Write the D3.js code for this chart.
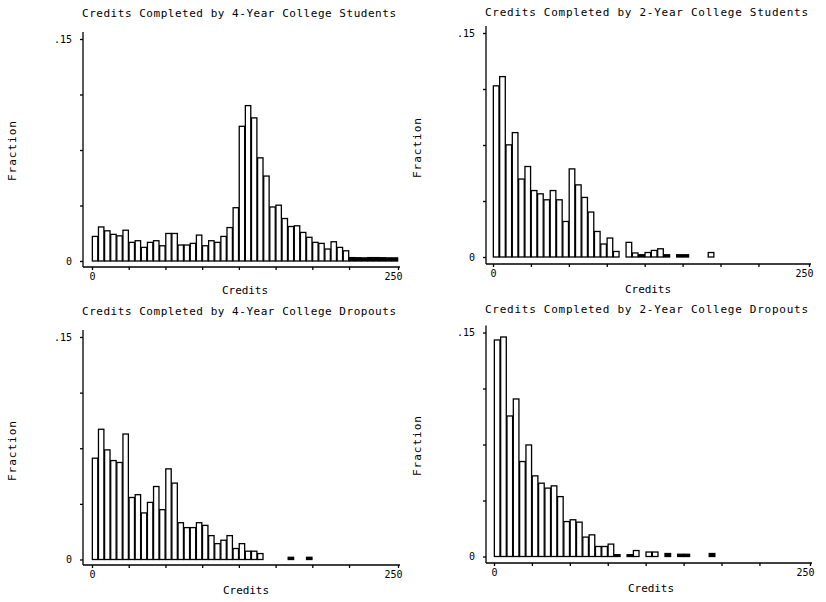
<!DOCTYPE html>
<html><head><meta charset="utf-8">
<script src="https://cdn.jsdelivr.net/npm/d3@7"></script>
<style>
body{margin:0;background:#fff}
svg text{font-family:"DejaVu Sans Mono",monospace;fill:#000}
</style>
</head><body>
<svg id="chart" width="826" height="602"></svg>
<script>
// ---- data ----
const binStarts = [0,5,10,15,20,25,30,35,40,45,50,55,60,65,70,75,80,85,90,95,
  100,105,110,115,120,125,130,135,140,145,150,155,160,165,170,175,180,185,190,195,
  200,205,210,215,220,225,230,235,240,245];
const binWidth = 5;
const yTickValues = [0, 0.0375, 0.075, 0.1125, 0.15];
const xTickValues = [0, 30, 60, 90, 120, 150, 180, 210, 250];
const titles = [
  "Credits Completed by 4-Year College Students",
  "Credits Completed by 2-Year College Students",
  "Credits Completed by 4-Year College Dropouts",
  "Credits Completed by 2-Year College Dropouts"
];
const fourYearStudents = [0.0166,0.023,0.0204,0.018,0.017,0.0208,0.0126,0.0137,0.0092,0.0126,
  0.0137,0.0103,0.0186,0.0186,0.0108,0.0108,0.0119,0.0175,0.0103,0.0137,
  0.0126,0.0166,0.0226,0.036,0.091,0.105,0.0967,0.0697,0.0574,0.0365,
  0.0377,0.0287,0.0233,0.0238,0.0193,0.016,0.0126,0.0119,0.0081,0.013,
  0.0092,0.0069,0.0023,0.0022,0.0021,0.0023,0.0023,0.0022,0.0021,0.0021];
const twoYearStudents = [0.1146,0.1208,0.0751,0.0833,0.0522,0.0606,0.0445,0.0423,0.0383,0.0445,
  0.0383,0.0238,0.059,0.0483,0.0399,0.0301,0.0171,0.0087,0.0127,0.0037,
  0,0.0098,0.0027,0.0015,0.003,0.0044,0.0055,0.0015,0,0.0015,
  0.0015,0,0,0,0.003];
const fourYearDropouts = [0.0683,0.0878,0.0739,0.0667,0.0654,0.0846,0.0418,0.0437,0.0314,0.0385,
  0.0492,0.0336,0.0611,0.0515,0.0248,0.0215,0.0215,0.0248,0.023,0.0161,
  0.0107,0.013,0.0161,0.0074,0.0107,0.0056,0.0056,0.004,0,0,
  0,0,0.0015,0,0,0.0015];
const twoYearDropouts = [0.145,0.147,0.0941,0.1055,0.0636,0.0747,0.054,0.0491,0.0458,0.0473,
  0.0401,0.0234,0.0246,0.023,0.013,0.0145,0.0067,0.0067,0.0083,0.0012,
  0,0.0012,0.004,0,0.003,0.003,0,0.002,0,0.0015,
  0.0015,0,0,0,0.002];
const xTitle = "Credits";
const yTitle = "Fraction";

// ---- layout ----
const panels = [
  {title: titles[0], values: fourYearStudents, axX: 83, x0: 92, x1: 398, y0: 261, y1: 39, axY: 267,
   tY: 14, tX1: 82, tX2: 396, xlX: 245, xlY: 291, ylX: 12.5, ylY: 151},
  {title: titles[1], values: twoYearStudents, axX: 486, x0: 493, x1: 809, y0: 257, y1: 33, axY: 264,
   tY: 12.5, tX1: 485, tX2: 808, xlX: 648, xlY: 290, ylX: 417.5, ylY: 148},
  {title: titles[2], values: fourYearDropouts, axX: 83, x0: 92, x1: 398, y0: 559.5, y1: 337, axY: 565,
   tY: 312, tX1: 82, tX2: 396, xlX: 246, xlY: 591, ylX: 12.5, ylY: 451},
  {title: titles[3], values: twoYearDropouts, axX: 486, x0: 494, x1: 810, y0: 556.5, y1: 332.5, axY: 563,
   tY: 310, tX1: 485, tX2: 808, xlX: 651, xlY: 589, ylX: 417.5, ylY: 446}
];

const svg = d3.select("#chart");
svg.append("rect").attr("width", 826).attr("height", 602).attr("fill", "#fff");

panels.forEach(p => {
  const g = svg.append("g");
  const x = d3.scaleLinear().domain([0, 250]).range([p.x0, p.x1]);
  const y = d3.scaleLinear().domain([0, 0.15]).range([p.y0, p.y1]);

  // bars
  const data = p.values.map((v, i) => ({b: binStarts[i], v})).filter(d => d.v > 0);
  g.selectAll("rect.bar").data(data).enter().append("rect")
    .attr("class", "bar")
    .attr("x", d => x(d.b) + 0.35)
    .attr("width", d => x(d.b + binWidth) - x(d.b) - 0.7)
    .attr("y", d => y(d.v))
    .attr("height", d => y(0) - y(d.v))
    .attr("fill", d => (y(0) - y(d.v)) < 3.6 ? "#000" : "#fff")
    .attr("stroke", "#000").attr("stroke-width", 1.3);

  // y axis
  const ya = g.append("g").attr("transform", `translate(${p.axX},0)`)
    .call(d3.axisLeft(y).tickValues(yTickValues).tickSize(3).tickPadding(8)
      .tickFormat(d => d === 0 ? "0" : (d === 0.15 ? ".15" : "")));
  ya.select(".domain").remove();
  ya.selectAll("line").attr("stroke-width", 1.3);
  ya.selectAll("text").attr("font-family", "DejaVu Sans Mono").attr("font-size", 10);
  g.append("line").attr("x1", p.axX).attr("x2", p.axX)
    .attr("y1", y(0.15) - 7).attr("y2", p.axY)
    .attr("stroke", "#000").attr("stroke-width", 1.3);

  // x axis
  const xa = g.append("g").attr("transform", `translate(0,${p.axY})`)
    .call(d3.axisBottom(x).tickValues(xTickValues).tickSize(3).tickPadding(3)
      .tickFormat(d => d === 0 ? "0" : (d === 250 ? "250" : "")));
  xa.select(".domain").remove();
  xa.selectAll("line").attr("stroke-width", 1.3);
  xa.selectAll("text").attr("font-family", "DejaVu Sans Mono").attr("font-size", 10)
    .attr("dx", d => d === 250 ? -5 : 0);
  g.append("line").attr("x1", p.axX).attr("x2", x(250) + 2)
    .attr("y1", p.axY).attr("y2", p.axY)
    .attr("stroke", "#000").attr("stroke-width", 1.3);

  // title
  g.append("text").attr("x", p.tX1).attr("y", p.tY)
    .attr("dominant-baseline", "middle")
    .attr("font-size", 11)
    .attr("textLength", p.tX2 - p.tX1).attr("lengthAdjust", "spacing")
    .text(p.title);

  // x title
  g.append("text").attr("x", p.xlX).attr("y", p.xlY)
    .attr("text-anchor", "middle").attr("dominant-baseline", "middle")
    .attr("font-size", 11).attr("textLength", 46).attr("lengthAdjust", "spacing")
    .text(xTitle);

  // y title
  g.append("text").attr("transform", `translate(${p.ylX},${p.ylY}) rotate(-90)`)
    .attr("text-anchor", "middle").attr("dominant-baseline", "middle")
    .attr("font-size", 11).attr("textLength", 60).attr("lengthAdjust", "spacing")
    .text(yTitle);
});
</script>
</body></html>
